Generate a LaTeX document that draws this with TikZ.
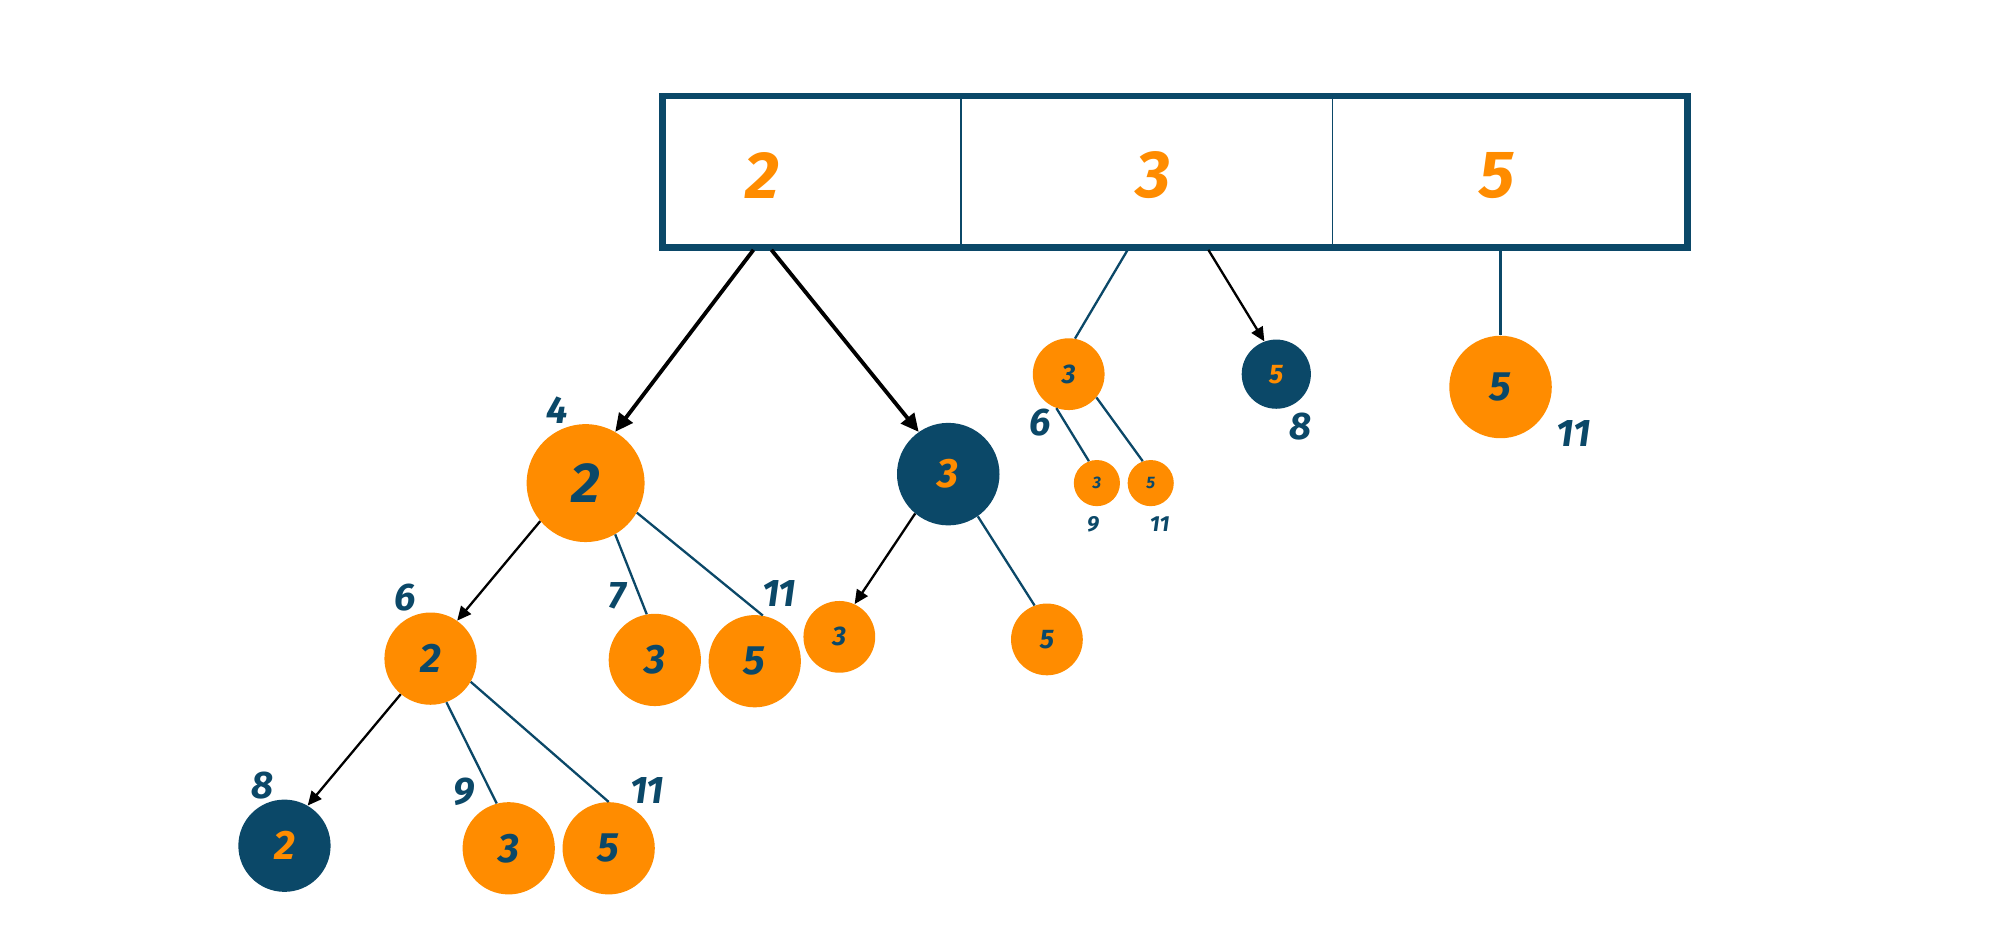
\documentclass[tikz,border=0pt]{standalone}
\usepackage{fontspec}
\setmainfont{Fira Sans}
\usetikzlibrary{arrows.meta}
\definecolor{db}{HTML}{0B4868}
\definecolor{og}{HTML}{FF8C00}
\begin{document}
\begin{tikzpicture}[x=1pt,y=-1pt,
 oc/.style={circle,fill=og,draw=none,inner sep=0,minimum size=#1,text=db,font=\itshape\bfseries},
 bc/.style={circle,fill=db,draw=none,inner sep=0,minimum size=#1,text=og,font=\itshape\bfseries},
 lab/.style={text=db,font=\itshape\bfseries\fontsize{30}{30}\selectfont},
 slab/.style={text=db,font=\itshape\bfseries\fontsize{17}{17}\selectfont},
 arr/.style={-{Triangle[length=14pt,width=13pt]},black,line width=3pt},
 arr2/.style={-{Triangle[length=11pt,width=10pt]},black,line width=1.8pt},
 ln/.style={db,line width=1.8pt}]
\useasboundingbox (0,0) rectangle (1560,730);
\node[draw=db,line width=5pt,minimum width=800pt,minimum height=118pt,inner sep=0] (box) at (917,134) {};
\draw[db,line width=1pt] (750,77)--(750,191) (1040,77)--(1040,191);
\node[text=og,font=\itshape\bfseries\fontsize{52}{52}\selectfont] (t2) at (595,137) {2};
\node[text=og,font=\itshape\bfseries\fontsize{52}{52}\selectfont] (t3) at (900,137) {3};
\node[text=og,font=\itshape\bfseries\fontsize{52}{52}\selectfont] (t5) at (1168,137) {5};
\coordinate (b1) at (588,195); \coordinate (b2) at (602,195);
\coordinate (b3) at (880,195); \coordinate (b4) at (943,195); \coordinate (b5) at (1171,195);
\tikzset{big/.style={font=\itshape\bfseries\fontsize{44}{44}\selectfont},
 mid/.style={font=\itshape\bfseries\fontsize{32}{32}\selectfont},
 sm/.style={font=\itshape\bfseries\fontsize{21}{21}\selectfont},
 xs/.style={font=\itshape\bfseries\fontsize{13}{13}\selectfont}}
\node[oc=92pt,big] (A) at (457,377) {2};
\node[bc=80pt,mid] (B) at (740,370) {3};
\node[oc=72pt,mid] (C) at (336,514) {2};
\node[oc=72pt,mid] (D) at (511,515) {3};
\node[oc=72pt,mid] (E) at (589,516) {5};
\node[oc=56pt,sm] (F) at (655,497) {3};
\node[oc=56pt,sm] (G) at (817,499) {5};
\node[bc=72pt,mid] (H) at (222,660) {2};
\node[oc=72pt,mid] (I) at (397,662) {3};
\node[oc=72pt,mid] (J) at (475,662) {5};
\node[oc=56pt,sm] (K) at (834,292) {3};
\node[bc=54pt,sm] (L) at (996,292) {5};
\node[oc=80pt,mid] (M) at (1171,302) {5};
\node[oc=36pt,xs] (N) at (856,377) {3};
\node[oc=36pt,xs] (O) at (898,377) {5};
\node[lab] (lA) at (435,320) {4};
\node[lab] (lC) at (316,466) {6};
\node[lab] (lD) at (482,465) {7};
\node[lab] (lE) at (608,463) {11};
\node[lab] (lH) at (205,613) {8};
\node[lab] (lI) at (362,618) {9};
\node[lab] (lJ) at (505,617) {11};
\node[lab] (lK) at (812,330) {6};
\node[lab] (lL) at (1015,333) {8};
\node[lab] (lM) at (1228,338) {11};
\node[slab] (lN) at (853,409) {9};
\node[slab] (lO) at (905,409) {11};
\draw[arr] (b1) -- (A.60);
\draw[arr] (b2) -- (B.125);
\draw[arr2] (A.220) -- (C.55);
\draw[ln] (A.300) -- (D.100);
\draw[ln] (A.330) -- (E.80);
\draw[arr2] (B.230) -- (F.65);
\draw[ln] (B.305) -- (G.110);
\draw[arr2] (C.230) -- (H.60);
\draw[ln] (C.290) -- (I.105);
\draw[ln] (C.330) -- (J.90);
\draw[ln] (b3) -- (K.80);
\draw[arr2] (b4) -- (L.110);
\draw[ln] (b5) -- (M.90);
\draw[ln] (K.250) -- (N.110);
\draw[ln] (K.320) -- (O.110);
\end{tikzpicture}
\end{document}
